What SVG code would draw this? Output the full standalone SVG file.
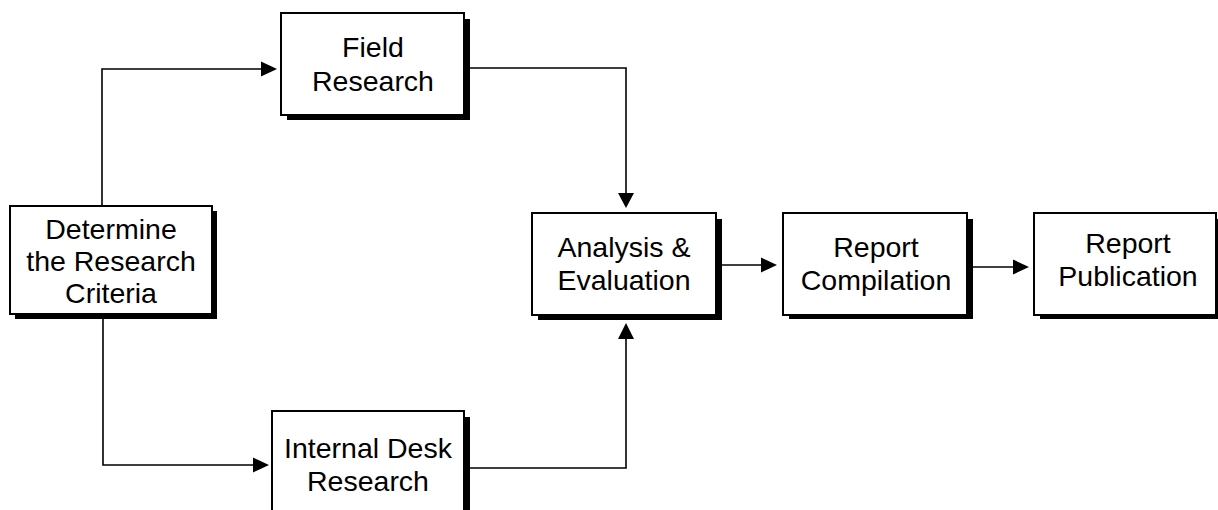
<svg xmlns="http://www.w3.org/2000/svg" width="1218" height="510" viewBox="0 0 1218 510">
<defs>
<style>
.box{fill:#fff;stroke:#000;stroke-width:2}
.sh{fill:#000}
.t{font-family:"Liberation Sans",Arial,sans-serif;font-size:28.5px;fill:#000;text-anchor:middle}
.c{fill:none;stroke:#000;stroke-width:1.6}
.ah{fill:#000}
</style>
</defs>
<rect width="1218" height="510" fill="#fff"/>
<g id="connectors">
<polyline class="c" points="102,206 102,69 262,69"/>
<path class="ah" d="M261,61.5 L277,69 L261,76.5 z"/>
<polyline class="c" points="103,318 103,465 254,465"/>
<path class="ah" d="M253,457.5 L269,465 L253,472.5 z"/>
<polyline class="c" points="470,68 626,68 626,194"/>
<path class="ah" d="M618,193 L626,208 L634,193 z"/>
<polyline class="c" points="470,468 626,468 626,338"/>
<path class="ah" d="M618,339 L626,323 L634,339 z"/>
<line class="c" x1="722" y1="265" x2="762" y2="265"/>
<path class="ah" d="M761,257.5 L777,265 L761,272.5 z"/>
<line class="c" x1="973" y1="267" x2="1014" y2="267"/>
<path class="ah" d="M1013,259.5 L1029,267 L1013,274.5 z"/>
</g>
<g id="determine">
<rect class="sh" x="15" y="211" width="202" height="108"/>
<rect class="box" x="10" y="206" width="202" height="108"/>
<text class="t" x="111" y="239">Determine</text>
<text class="t" x="111" y="271">the Research</text>
<text class="t" x="111" y="303">Criteria</text>
</g>
<g id="field">
<rect class="sh" x="287" y="19" width="183" height="101"/>
<rect class="box" x="281" y="13" width="183" height="102"/>
<text class="t" x="373" y="57">Field</text>
<text class="t" x="373" y="91">Research</text>
</g>
<g id="internal">
<rect class="sh" x="278" y="417" width="192" height="110"/>
<rect class="box" x="272" y="411" width="192" height="110"/>
<text class="t" x="368" y="458">Internal Desk</text>
<text class="t" x="368" y="491">Research</text>
</g>
<g id="analysis">
<rect class="sh" x="538" y="219" width="184" height="101"/>
<rect class="box" x="532" y="213" width="184" height="102"/>
<text class="t" x="624" y="257">Analysis &amp;</text>
<text class="t" x="624" y="290">Evaluation</text>
</g>
<g id="compilation">
<rect class="sh" x="789" y="219" width="184" height="100"/>
<rect class="box" x="783" y="213" width="184" height="102"/>
<text class="t" x="876" y="257">Report</text>
<text class="t" x="876" y="290">Compilation</text>
</g>
<g id="publication">
<rect class="sh" x="1040" y="219" width="184" height="100"/>
<rect class="box" x="1034" y="213" width="182" height="102"/>
<text class="t" x="1128" y="253">Report</text>
<text class="t" x="1128" y="286">Publication</text>
</g>
</svg>
